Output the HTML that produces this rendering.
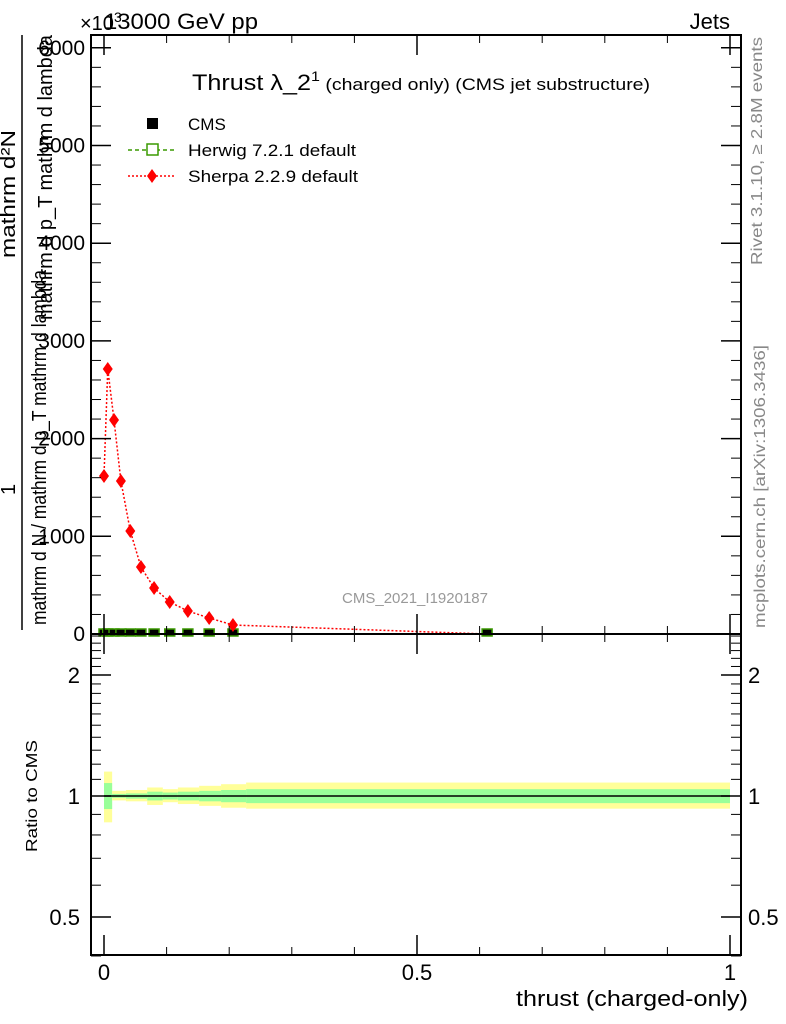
<!DOCTYPE html>
<html><head><meta charset="utf-8"><style>
body{margin:0;background:#fff;}
svg{display:block;font-family:"Liberation Sans",sans-serif;}
</style></head><body>
<svg id="c" width="786" height="1024" xmlns="http://www.w3.org/2000/svg">
<g id="bands"></g>
<g id="mainmarks"></g>
<rect x="91" y="35" width="650" height="599" fill="none" stroke="#000" stroke-width="2"/>
<rect x="91" y="634" width="650" height="321" fill="none" stroke="#000" stroke-width="2"/>
<g id="axes"></g>
<text x="104" y="29" font-size="22" textLength="154" lengthAdjust="spacingAndGlyphs">13000 GeV pp</text>
<text x="80" y="30" font-size="20">×10<tspan font-size="14" dy="-8">3</tspan></text>
<text x="730" y="29" font-size="22" text-anchor="end">Jets</text>
<text x="192" y="90" font-size="22" textLength="458" lengthAdjust="spacingAndGlyphs">Thrust λ_2<tspan font-size="14" dy="-9">1</tspan><tspan font-size="17" dy="9"> (charged only) (CMS jet substructure)</tspan></text>
<g>
<rect x="147" y="118" width="11" height="11" fill="#000"/>
<text x="188" y="130" font-size="17">CMS</text>
<line x1="128" y1="150" x2="175" y2="150" stroke="#3a9a00" stroke-dasharray="4,3" stroke-width="1.5"/>
<rect x="147" y="144" width="11" height="11" fill="#fff" stroke="#3a9a00" stroke-width="1.5"/>
<text x="188" y="156" font-size="17" textLength="168" lengthAdjust="spacingAndGlyphs">Herwig 7.2.1 default</text>
<line x1="128" y1="176" x2="175" y2="176" stroke="#f00" stroke-dasharray="2,2" stroke-width="1.5"/>
<path d="M152 169 L157 176 L152 183 L147 176 Z" fill="#f00"/>
<text x="188" y="182" font-size="17" textLength="170" lengthAdjust="spacingAndGlyphs">Sherpa 2.2.9 default</text>
</g>
<text x="415" y="603" font-size="15" fill="#999" text-anchor="middle">CMS_2021_I1920187</text>
<text transform="translate(762,265) rotate(-90)" font-size="16" fill="#888" textLength="228" lengthAdjust="spacingAndGlyphs">Rivet 3.1.10, ≥ 2.8M events</text>
<text transform="translate(765,628) rotate(-90)" font-size="16" fill="#888" textLength="283" lengthAdjust="spacingAndGlyphs">mcplots.cern.ch [arXiv:1306.3436]</text>
<g>
<text transform="translate(46,625) rotate(-90)" font-size="20" textLength="355" lengthAdjust="spacingAndGlyphs">mathrm d N / mathrm d p_T mathrm d lambda</text>
<text transform="translate(52,320) rotate(-90)" font-size="20" textLength="285" lengthAdjust="spacingAndGlyphs">mathrm d p_T mathrm d lambda</text>
<text transform="translate(15,258) rotate(-90)" font-size="20" textLength="128" lengthAdjust="spacingAndGlyphs">mathrm d²N</text>
<text transform="translate(15,495) rotate(-90)" font-size="20">1</text>
<line x1="22" y1="35" x2="22" y2="630" stroke="#000" stroke-width="1.5"/>
</g>
<text transform="translate(37,852) rotate(-90)" font-size="16" textLength="112" lengthAdjust="spacingAndGlyphs">Ratio to CMS</text>
<text x="748" y="1006" font-size="22" text-anchor="end" textLength="232" lengthAdjust="spacingAndGlyphs">thrust (charged-only)</text>
</svg>
<script>
const xCenters=[0.0,0.006,0.016,0.027,0.042,0.059,0.08,0.105,0.134,0.168,0.206,0.612];
const sherpaVals=[1617,2712,2190,1566,1054,686,471,328,235,164,92,0];
const cmsVals=[0,0,0,0,0,0,0,0,0,0,0,0];
const binEdges=[0,0.013,0.035,0.069,0.094,0.118,0.152,0.187,0.227,1.0];
const yelHi=[1.15,1.03,1.035,1.05,1.04,1.05,1.06,1.07,1.08];
const yelLo=[0.86,0.975,0.97,0.95,0.965,0.955,0.945,0.935,0.93];
const grnHi=[1.077,1.012,1.015,1.025,1.02,1.025,1.03,1.035,1.04];
const grnLo=[0.928,0.99,0.985,0.975,0.98,0.975,0.97,0.965,0.96];
const mainTicks=[0,1000,2000,3000,4000,5000,6000];
const mainTickLabels=["0","1000","2000","3000","4000","5000","6000"];
const ratioTicks=[0.5,1,2];
const ratioTickLabels=["0.5","1","2"];
const xTicks=[0,0.5,1];
const xTickLabels=["0","0.5","1"];
const NS="http://www.w3.org/2000/svg";
const X=v=>104+626*v;
const Y=v=>634-0.0977*v;
const R=v=>796-402*Math.log10(v);
function mk(t,a,p){const e=document.createElementNS(NS,t);for(const k in a)e.setAttribute(k,a[k]);p.appendChild(e);return e;}
const bands=document.getElementById('bands');
for(let i=0;i<binEdges.length-1;i++){
 const x1=X(binEdges[i]),x2=X(binEdges[i+1]);
 const y=mk('rect',{x:x1,y:R(yelHi[i]),width:x2-x1,height:R(yelLo[i])-R(yelHi[i]),fill:'#ffff99'},bands);
 
 
 const g=mk('rect',{x:x1,y:R(grnHi[i]),width:x2-x1,height:R(grnLo[i])-R(grnHi[i]),fill:'#99ff99'},bands);
 
 
}
mk('line',{x1:X(binEdges[0]),x2:X(1),y1:R(1),y2:R(1),stroke:'#000','stroke-width':1.5},bands);
const mm=document.getElementById('mainmarks');
for(let i=0;i<xCenters.length;i++){
 const s=mk('rect',{x:X(xCenters[i])-5,y:Y(cmsVals[i])-5,width:10,height:7,fill:'#000',stroke:'#3a9a00','stroke-width':1.5},mm);
 
 
}
let d='';xCenters.forEach((x,i)=>{d+=(i?'L':'M')+X(x)+' '+Y(sherpaVals[i]);});
const ln=mk('path',{d:d,fill:'none',stroke:'#f00','stroke-width':1.5,'stroke-dasharray':'2,2'},mm);


for(let i=0;i<xCenters.length-1;i++){
 const px=X(xCenters[i]),py=Y(sherpaVals[i]);
 const p=mk('path',{d:`M${px} ${py-7} L${px+5} ${py} L${px} ${py+7} L${px-5} ${py} Z`,fill:'#f00'},mm);
 
 
}
const ax=document.getElementById('axes');
mainTicks.forEach((v,i)=>{
 mk('line',{x1:91,x2:111,y1:Y(v),y2:Y(v),stroke:'#000','stroke-width':1.5},ax);
 mk('line',{x1:741,x2:721,y1:Y(v),y2:Y(v),stroke:'#000','stroke-width':1.5},ax);
 const t=mk('text',{x:85,y:Y(v)+7,'font-size':21,'text-anchor':'end'},ax);t.textContent=mainTickLabels[i];
 
 
 if(i<mainTicks.length-1)for(let k=1;k<5;k++){const vv=v+200*k;
  mk('line',{x1:91,x2:101,y1:Y(vv),y2:Y(vv),stroke:'#000'},ax);
  mk('line',{x1:741,x2:731,y1:Y(vv),y2:Y(vv),stroke:'#000'},ax);}
});
[0.4,0.6,0.7,0.8,0.9,1.1,1.2,1.3,1.4,1.5,1.6,1.7,1.8,1.9,2.1,2.2,2.3,2.4,2.5].forEach(v=>{
 mk('line',{x1:91,x2:101,y1:R(v),y2:R(v),stroke:'#000'},ax);
 mk('line',{x1:741,x2:731,y1:R(v),y2:R(v),stroke:'#000'},ax);
});
ratioTicks.forEach((v,i)=>{
 mk('line',{x1:91,x2:111,y1:R(v),y2:R(v),stroke:'#000','stroke-width':1.5},ax);
 mk('line',{x1:741,x2:721,y1:R(v),y2:R(v),stroke:'#000','stroke-width':1.5},ax);
 const t=mk('text',{x:80,y:R(v)+8,'font-size':22,'text-anchor':'end'},ax);t.textContent=ratioTickLabels[i];
 
 
 const t2=mk('text',{x:748,y:R(v)+8,'font-size':22},ax);t2.textContent=ratioTickLabels[i];
 
 
});
for(let k=0;k<=10;k++){const v=k/10,big=k%5==0,L=big?20:8;
 [[634,-1],[955,-1],[35,1],[634,1]].forEach(([y0,s])=>{mk('line',{x1:X(v),x2:X(v),y1:y0,y2:y0+s*L,stroke:'#000','stroke-width':big?1.5:1},ax);});
}
xTicks.forEach((v,i)=>{const t=mk('text',{x:X(v),y:980,'font-size':22,'text-anchor':'middle'},ax);t.textContent=xTickLabels[i];
 
 });
</script>
</body></html>
